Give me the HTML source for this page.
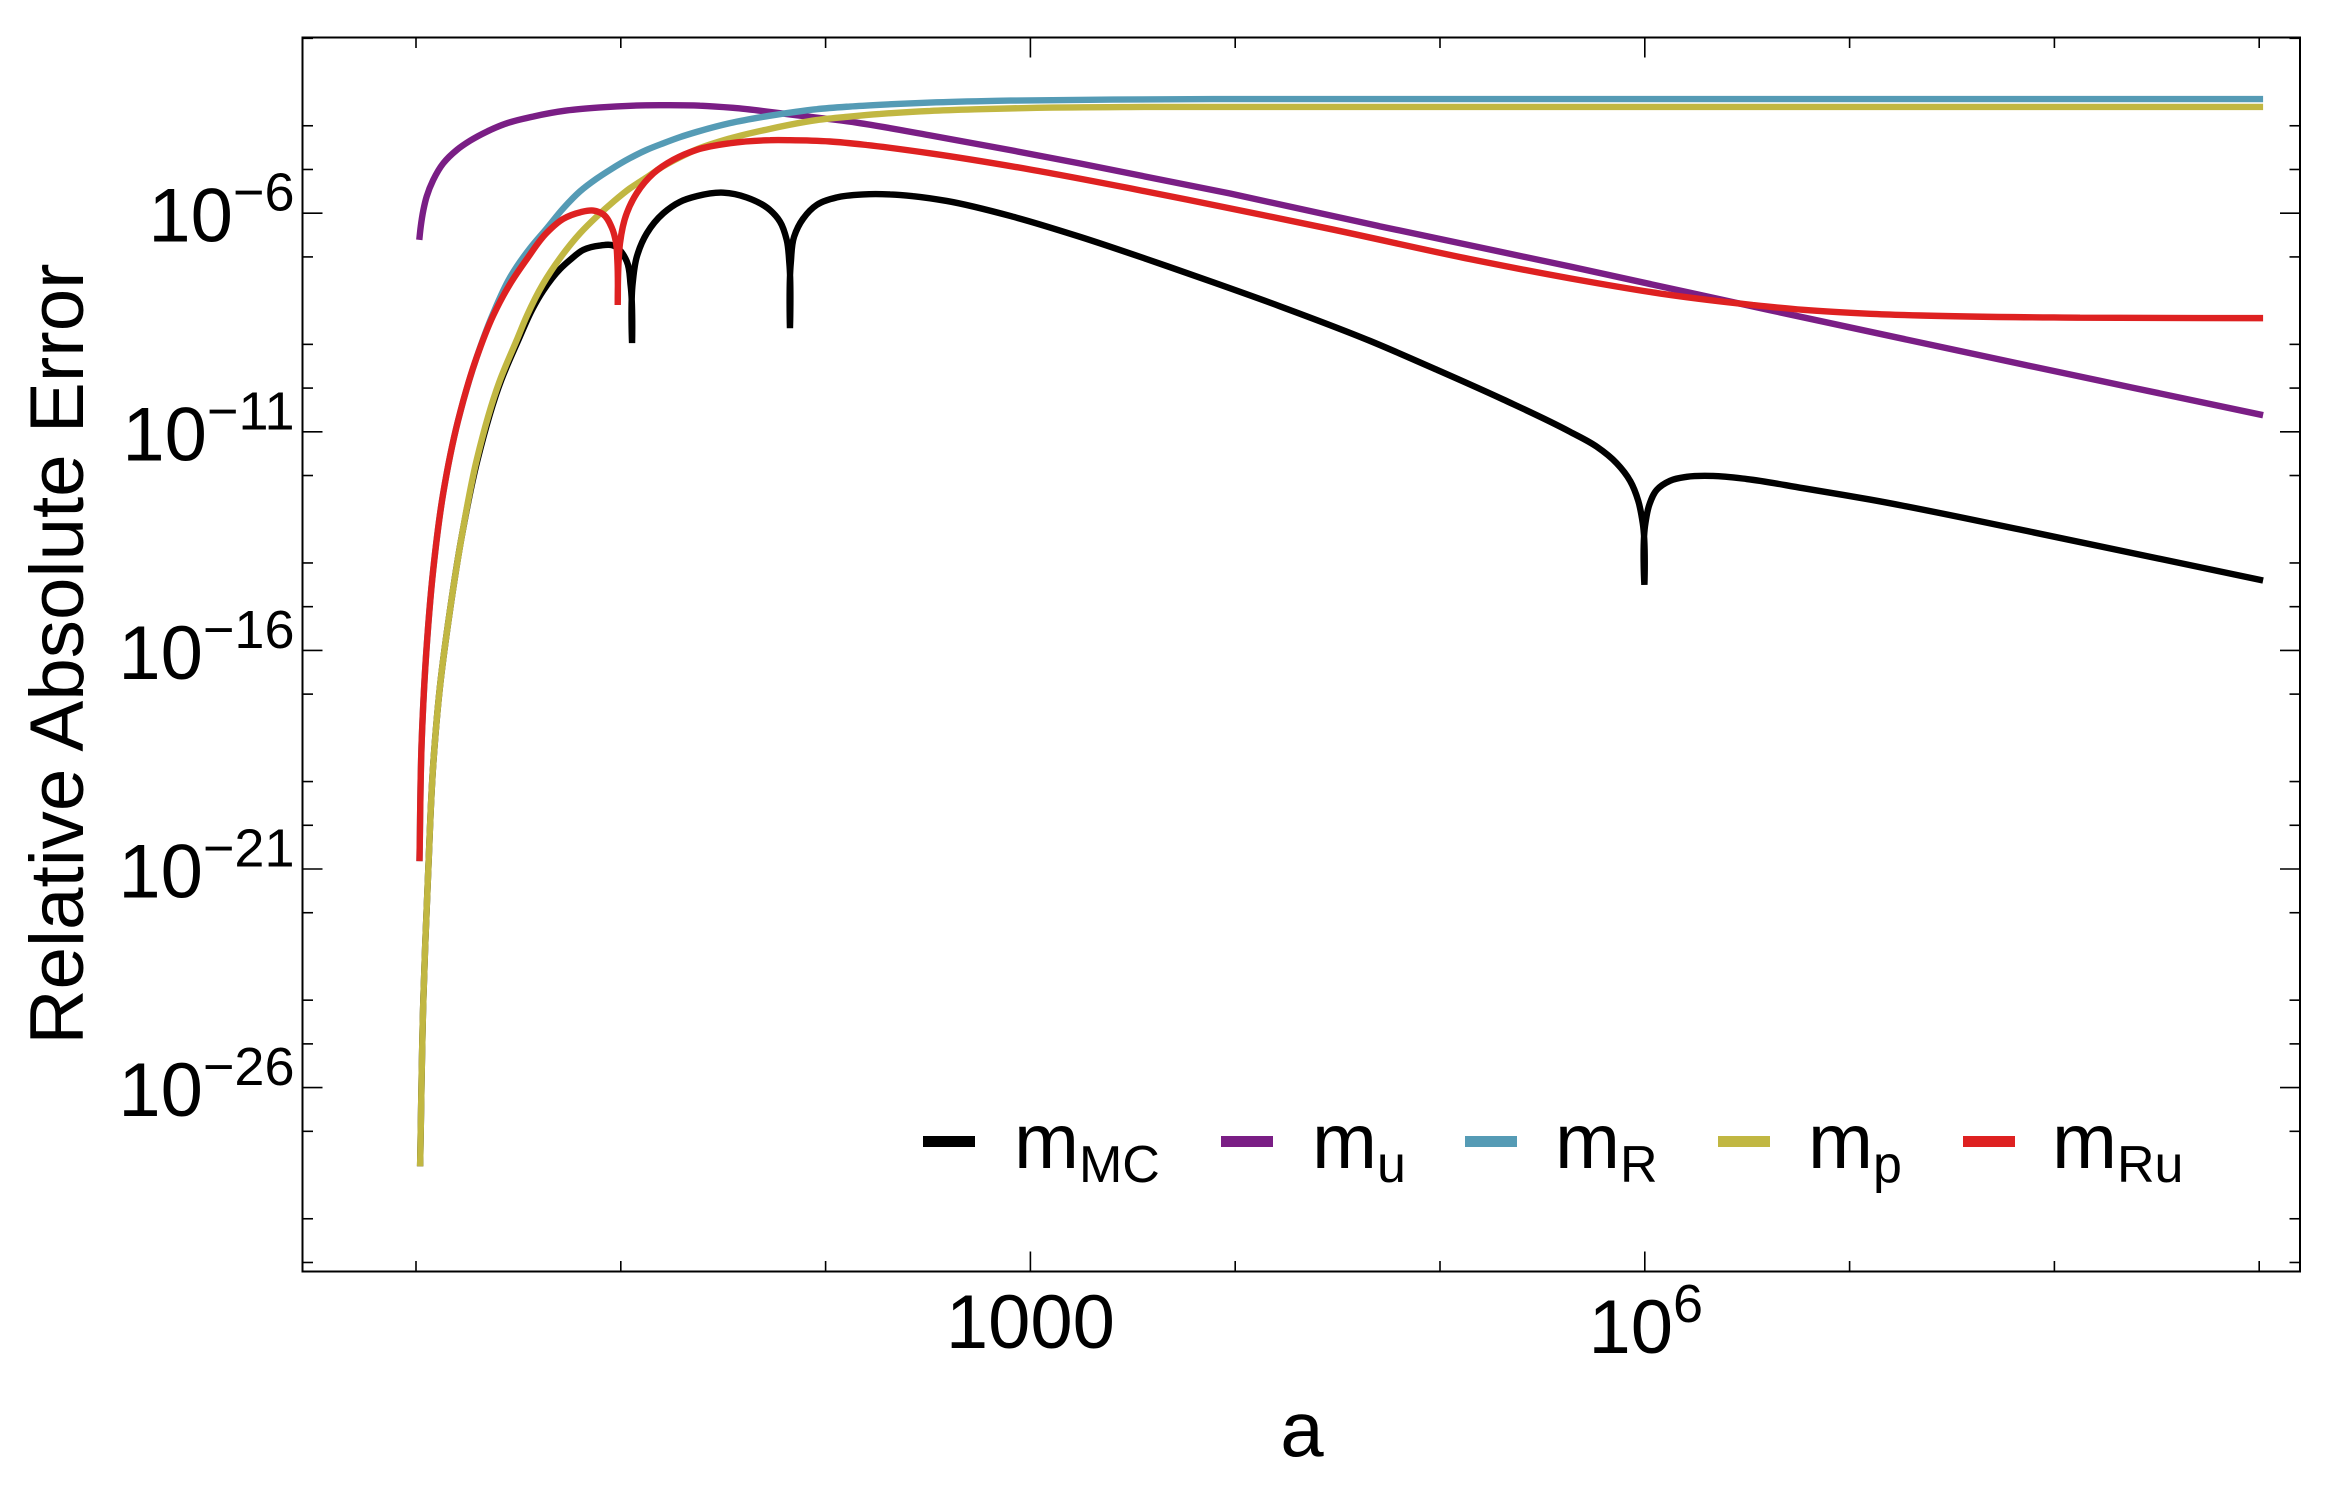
<!DOCTYPE html>
<html lang="en">
<head>
<meta charset="utf-8">
<title>Relative Absolute Error</title>
<style>
html,body{margin:0;padding:0;background:#fff;width:2326px;height:1488px;overflow:hidden}
svg{display:block}
text{font-family:"Liberation Sans",Arial,sans-serif;fill:#000}
</style>
</head>
<body>
<svg id="chart" xmlns="http://www.w3.org/2000/svg" width="2326" height="1488" viewBox="0 0 2326 1488">
  <rect x="0" y="0" width="2326" height="1488" fill="#fff"/>
  <g id="ticks"></g>
  <g id="series"></g>
  <rect x="302.5" y="37.5" width="1997.5" height="1234" fill="none" stroke="#000" stroke-width="2"/>
  <g id="tick-labels"></g>
  <text x="1302" y="1456" font-size="78" text-anchor="middle">a</text>
  <text transform="translate(83,654) rotate(-90)" font-size="76.4" text-anchor="middle">Relative Absolute Error</text>
  <g>
    <g>
      <rect x="923" y="1136" width="52" height="11" fill="#000000"/>
      <text x="1014" y="1168" font-size="78">m<tspan font-size="52" dy="14">MC</tspan></text>
    </g>
    <g>
      <rect x="1221" y="1136" width="52" height="11" fill="#7a1e85"/>
      <text x="1312" y="1168" font-size="78">m<tspan font-size="52" dy="14">u</tspan></text>
    </g>
    <g>
      <rect x="1465" y="1136" width="52" height="11" fill="#559bb5"/>
      <text x="1555" y="1168" font-size="78">m<tspan font-size="52" dy="14">R</tspan></text>
    </g>
    <g>
      <rect x="1718" y="1136" width="52" height="11" fill="#c1b742"/>
      <text x="1808" y="1168" font-size="78">m<tspan font-size="52" dy="14">p</tspan></text>
    </g>
    <g>
      <rect x="1963" y="1136" width="52" height="11" fill="#de2121"/>
      <text x="2052" y="1168" font-size="78">m<tspan font-size="52" dy="14">Ru</tspan></text>
    </g>
  </g>
</svg>
<script>
// Tick data (decade exponents)
const xTickExps = [0,1,2,3,4,5,6,7,8,9];
const xLabelExps = [3,6];
const xLabelBases = ["1000","10"];
const xLabelSups = ["","6"];
const yMajorExps = [-6,-11,-16,-21,-26];
const yMinorExps = [-2,-4,-5,-7,-9,-10,-12,-14,-15,-17,-19,-20,-22,-24,-25,-27,-29,-30];

// Series values: log10(a) and log10(error)
const mcLogA = [0.020,0.036,0.060,0.084,0.117,0.166,0.223,0.300,0.416,0.500,0.571,0.620,0.703,0.752,0.817,0.898,0.963,0.996,1.029,1.048,1.055,1.058,1.078,1.127,1.208,1.289,1.371,1.501,1.615,1.729,1.777,1.810,1.823,1.826,1.830,1.846,1.891,1.957,2.054,2.184,2.315,2.427,2.591,2.915,3.242,3.568,3.892,4.219,4.658,4.984,5.308,5.635,5.765,5.863,5.928,5.968,5.990,5.998,6.003,6.022,6.058,6.123,6.205,6.333,6.498,6.773,7.100,7.867,9.019];
const mcLogErr = [-27.80,-23.97,-21.01,-18.62,-16.83,-15.08,-13.40,-11.65,-9.82,-8.90,-8.17,-7.78,-7.28,-7.07,-6.84,-6.74,-6.74,-6.85,-7.10,-7.65,-8.97,-7.60,-7.00,-6.46,-6.00,-5.74,-5.61,-5.53,-5.64,-5.93,-6.19,-6.61,-7.14,-8.63,-7.14,-6.54,-6.12,-5.81,-5.64,-5.57,-5.57,-5.61,-5.72,-6.08,-6.54,-7.05,-7.58,-8.13,-8.92,-9.58,-10.26,-11.00,-11.34,-11.72,-12.12,-12.58,-13.09,-14.50,-13.09,-12.67,-12.33,-12.12,-12.03,-12.01,-12.08,-12.29,-12.55,-13.27,-14.40];

const uLogA = [0.016,0.023,0.036,0.052,0.084,0.133,0.199,0.264,0.345,0.443,0.571,0.736,0.898,1.060,1.191,1.387,1.548,1.826,2.153,2.510,3.240,3.975,4.707,5.635,6.612,7.867,9.019];
const uLogErr = [-6.61,-6.31,-5.93,-5.62,-5.241,-4.859,-4.554,-4.342,-4.136,-3.944,-3.79,-3.65,-3.58,-3.54,-3.53,-3.54,-3.59,-3.74,-3.93,-4.22,-4.86,-5.55,-6.30,-7.22,-8.22,-9.48,-10.62];

const rLogA = [0.017,0.028,0.052,0.084,0.133,0.205,0.296,0.376,0.459,0.557,0.638,0.719,0.801,0.882,0.947,1.045,1.127,1.208,1.289,1.371,1.533,1.729,1.957,2.119,2.266,2.510,2.837,3.403,3.892,4.707,9.019];
const rLogErr = [-20.82,-18.05,-15.92,-14.16,-12.40,-10.75,-9.30,-8.30,-7.47,-6.80,-6.35,-5.89,-5.50,-5.21,-5.01,-4.74,-4.55,-4.40,-4.26,-4.14,-3.94,-3.77,-3.62,-3.56,-3.52,-3.47,-3.43,-3.40,-3.39,-3.39,-3.39];

const pLogA = [0.020,0.036,0.060,0.084,0.117,0.166,0.223,0.296,0.410,0.492,0.541,0.620,0.703,0.801,0.882,0.963,1.045,1.127,1.206,1.289,1.371,1.533,1.729,1.957,2.119,2.266,2.510,2.754,3.032,3.569,4.707,9.019];
const pLogErr = [-27.80,-23.97,-21.01,-18.62,-16.83,-15.08,-13.40,-11.65,-9.82,-8.90,-8.35,-7.62,-7.03,-6.46,-6.08,-5.74,-5.43,-5.18,-4.93,-4.72,-4.54,-4.29,-4.07,-3.87,-3.79,-3.73,-3.66,-3.62,-3.59,-3.57,-3.57,-3.57];

const ruLogA = [0.017,0.028,0.052,0.084,0.133,0.205,0.296,0.376,0.459,0.541,0.638,0.719,0.801,0.866,0.915,0.956,0.977,0.983,0.985,0.990,0.996,1.029,1.078,1.159,1.256,1.371,1.533,1.729,1.826,2.022,2.201,2.510,2.998,3.486,3.975,4.463,5.147,5.635,6.123,6.528,6.773,7.100,7.349,8.125,9.019];
const ruLogErr = [-20.82,-18.05,-15.92,-14.16,-12.40,-10.75,-9.30,-8.35,-7.62,-7.05,-6.45,-6.13,-5.98,-5.94,-6.03,-6.33,-6.69,-7.07,-8.10,-7.05,-6.69,-6.00,-5.54,-5.09,-4.78,-4.55,-4.40,-4.33,-4.33,-4.36,-4.44,-4.63,-5.00,-5.43,-5.89,-6.36,-7.05,-7.49,-7.87,-8.10,-8.21,-8.30,-8.34,-8.39,-8.40];

const NS = "http://www.w3.org/2000/svg";

// Axis functions
function xScale(logA){ return 416 + 204.8 * logA; }
function yScale(logErr){ return 213.2 + (-6 - logErr) * 43.72; }

const frameLeft = 302.5, frameRight = 2300, frameTop = 37.5, frameBottom = 1271.5;
const majorLen = 20, minorLen = 10.5;

const tickGroup = document.getElementById("ticks");
function addTick(x1,y1,x2,y2,name){
  const l = document.createElementNS(NS,"line");
  l.setAttribute("x1",x1); l.setAttribute("y1",y1);
  l.setAttribute("x2",x2); l.setAttribute("y2",y2);
  l.setAttribute("stroke","#000");
  l.setAttribute("stroke-width","1.6");
  
  
  tickGroup.appendChild(l);
}
xTickExps.forEach(function(e){
  const x = xScale(e);
  const len = xLabelExps.indexOf(e) >= 0 ? majorLen : minorLen;
  addTick(x,frameBottom,x,frameBottom-len,"x-tick-bottom");
  addTick(x,frameTop,x,frameTop+len,"x-tick-top");
});
yMajorExps.forEach(function(e){
  const y = yScale(e);
  addTick(frameLeft,y,frameLeft+majorLen,y,"y-major-tick-left");
  addTick(frameRight,y,frameRight-majorLen,y,"y-major-tick-right");
});
yMinorExps.forEach(function(e){
  const y = yScale(e);
  addTick(frameLeft,y,frameLeft+minorLen,y,"y-minor-tick-left");
  addTick(frameRight,y,frameRight-minorLen,y,"y-minor-tick-right");
});

// Tick labels
const labelGroup = document.getElementById("tick-labels");
function addLabel(x,y,anchor,base,sup,name){
  const t = document.createElementNS(NS,"text");
  t.setAttribute("x",x);
  t.setAttribute("y",y);
  t.setAttribute("text-anchor",anchor);
  t.setAttribute("font-size","76");
  
  
  t.appendChild(document.createTextNode(base));
  if(sup){
    const s = document.createElementNS(NS,"tspan");
    s.setAttribute("font-size","54");
    s.setAttribute("dy","-31");
    s.textContent = sup;
    t.appendChild(s);
  }
  labelGroup.appendChild(t);
}
xLabelExps.forEach(function(e,i){
  addLabel(xScale(e)+(xLabelSups[i] ? 1 : 0), xLabelSups[i] ? 1353 : 1348, "middle", xLabelBases[i], xLabelSups[i], "x-tick-label");
});
yMajorExps.forEach(function(e){
  addLabel(294.5, yScale(e)+28.5, "end", "10", "\u2212"+Math.abs(e), "y-tick-label");
});

// Series drawing: a smooth path through the points, with sharp cusps at deep minima
function buildPath(logA, logErr){
  const pts = logA.map(function(a,i){ return [xScale(a), yScale(logErr[i])]; });
  const n = pts.length;
  const isCusp = function(i){
    return i>0 && i<n-1 && logErr[i] < logErr[i-1]-0.4 && logErr[i] < logErr[i+1]-0.4;
  };
  const tangent = function(i){
    if(isCusp(i)) return [0,0];
    let vx, vy;
    if(i===0 || i===n-1){
      const a = pts[Math.max(i-1,0)], b = pts[Math.min(i+1,n-1)];
      vx = b[0]-a[0]; vy = b[1]-a[1];
    } else {
      const a = pts[i-1], p = pts[i], b = pts[i+1];
      const d0 = Math.hypot(p[0]-a[0],p[1]-a[1]) || 1;
      const d1 = Math.hypot(b[0]-p[0],b[1]-p[1]) || 1;
      vx = (p[0]-a[0])*d1/(d0*(d0+d1)) + (b[0]-p[0])*d0/(d1*(d0+d1));
      vy = (p[1]-a[1])*d1/(d0*(d0+d1)) + (b[1]-p[1])*d0/(d1*(d0+d1));
    }
    const d = Math.hypot(vx,vy) || 1;
    return [vx/d, vy/d];
  };
  let d = "M" + pts[0][0].toFixed(2) + " " + pts[0][1].toFixed(2);
  for(let i=0;i<n-1;i++){
    const p = pts[i], q = pts[i+1];
    const len = Math.hypot(q[0]-p[0], q[1]-p[1]) / 3;
    const t0 = tangent(i), t1 = tangent(i+1);
    d += "C" + (p[0]+t0[0]*len).toFixed(2) + " " + (p[1]+t0[1]*len).toFixed(2) + " " +
         (q[0]-t1[0]*len).toFixed(2) + " " + (q[1]-t1[1]*len).toFixed(2) + " " +
         q[0].toFixed(2) + " " + q[1].toFixed(2);
  }
  return d;
}
const seriesGroup = document.getElementById("series");
function addSeries(logA, logErr, color, name){
  const p = document.createElementNS(NS,"path");
  p.setAttribute("d", buildPath(logA, logErr));
  p.setAttribute("fill","none");
  p.setAttribute("stroke",color);
  p.setAttribute("stroke-width","6.4");
  p.setAttribute("stroke-linecap","butt");
  p.setAttribute("stroke-linejoin","bevel");
  
  
  seriesGroup.appendChild(p);
}
addSeries(mcLogA, mcLogErr, "#000000", "line-m-mc");
addSeries(uLogA, uLogErr, "#7a1e85", "line-m-u");
addSeries(rLogA, rLogErr, "#559bb5", "line-m-r");
addSeries(pLogA, pLogErr, "#c1b742", "line-m-p");
addSeries(ruLogA, ruLogErr, "#de2121", "line-m-ru");
</script>
</body>
</html>
